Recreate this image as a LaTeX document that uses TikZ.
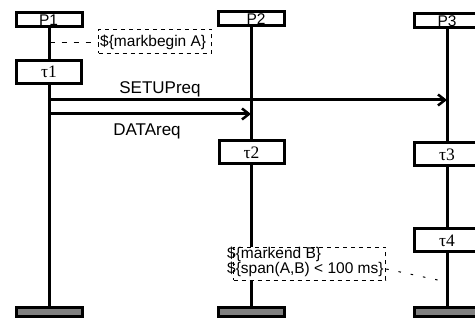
\documentclass[tikz,border=0pt]{standalone}
\usepackage{fontspec}
\setmainfont{Liberation Sans}
\newfontfamily\seriffont{Liberation Serif}
\usetikzlibrary{arrows.meta}
\definecolor{bargray}{RGB}{128,128,128}
\begin{document}
\begin{tikzpicture}[x=1pt,y=-1pt,
  procbox/.style={draw,line width=3pt,fill=white,inner sep=0pt,outer sep=0pt,minimum width=66pt,minimum height=13.5pt},
  taubox/.style={draw,line width=3pt,fill=white,inner sep=0pt,outer sep=0pt,minimum width=65pt,minimum height=23pt,font=\seriffont\fontsize{17.5}{17.5}\selectfont},
  endbar/.style={draw,line width=3pt,fill=bargray,inner sep=0pt,outer sep=0pt,minimum width=66pt,minimum height=9pt},
  lifeline/.style={line width=3pt},
  msg/.style={line width=3pt,-{Straight Barb[length=7pt,width=11pt,line width=2.5pt]}},
  msglabel/.style={font=\fontsize{17}{17}\selectfont,inner sep=0pt,anchor=base},
  proclabel/.style={font=\fontsize{15.5}{15.5}\selectfont,inner sep=0pt,anchor=base},
  note/.style={draw,line width=1.5pt,dash pattern=on 4pt off 4pt,inner sep=0pt,fill=white},
  notetext/.style={font=\fontsize{15.5}{12}\selectfont,inner sep=0pt,align=left},
  notelink/.style={line width=1pt,dash pattern=on 5pt off 7pt}]
\useasboundingbox (0,0) rectangle (475,320);
\clip (0,0) rectangle (475,320);
% process heads
\node[procbox] (P1) at (49.5,19.5) {};
\node[procbox] (P2) at (251,18.5) {};
\node[procbox] (P3) at (447,20.5) {};
% end bars
\node[endbar] (B1) at (49.5,312) {};
\node[endbar] (B2) at (251,312) {};
\node[endbar] (B3) at (447,312) {};
% lifelines
\draw[lifeline] (P1.south) -- (B1.north);
\draw[lifeline] (P2.south) -- (B2.north);
\draw[lifeline] (P3.south) -- (B3.north);
% redraw heads over lifelines
\node[procbox] at (P1) {};
\node[procbox] at (P2) {};
\node[procbox] at (P3) {};
\node[proclabel] (P1t) at (48.5,26) {P1};
\node[proclabel] (P2t) at (256,25) {P2};
\node[proclabel] (P3t) at (447,27) {P3};
% tau boxes
\node[taubox] (t1) at (49,72) {τ1};
\node[taubox] (t2) at (251.5,152.5) {τ2};
\node[taubox] (t3) at (447,154.5) {τ3};
\node[taubox] (t4) at (447,240.5) {τ4};
% messages
\draw[msg] (P1.south |- 0,100) -- (P3.south |- 0,100);
\node[msglabel] (setup) at (160,94) {SETUPreq};
\draw[msg] (P1.south |- 0,114) -- (P2.south |- 0,114);
\node[msglabel] (data) at (147,136) {DATAreq};
% notes
\node[note,minimum width=113pt,minimum height=24pt] (nA) at (155,41.5) {};
\node[notetext,anchor=west] (nAt) at (100,42) {\$\{markbegin A\}};
\draw[notelink] (P1.south |- 0,43) -- (nA.west |- 0,43);
\node[note,minimum width=152pt,minimum height=33pt] (nB) at (309.5,264) {};
\node[notetext,anchor=north west] (nBt) at (227,246.5) {\$\{markend B\}\\\$\{span(A,B) < 100 ms\}};
\draw[notelink,dash pattern=on 2.5pt off 10pt] (nB.east |- 0,269) -- (P3.south |- 0,282);
\end{tikzpicture}
\end{document}
